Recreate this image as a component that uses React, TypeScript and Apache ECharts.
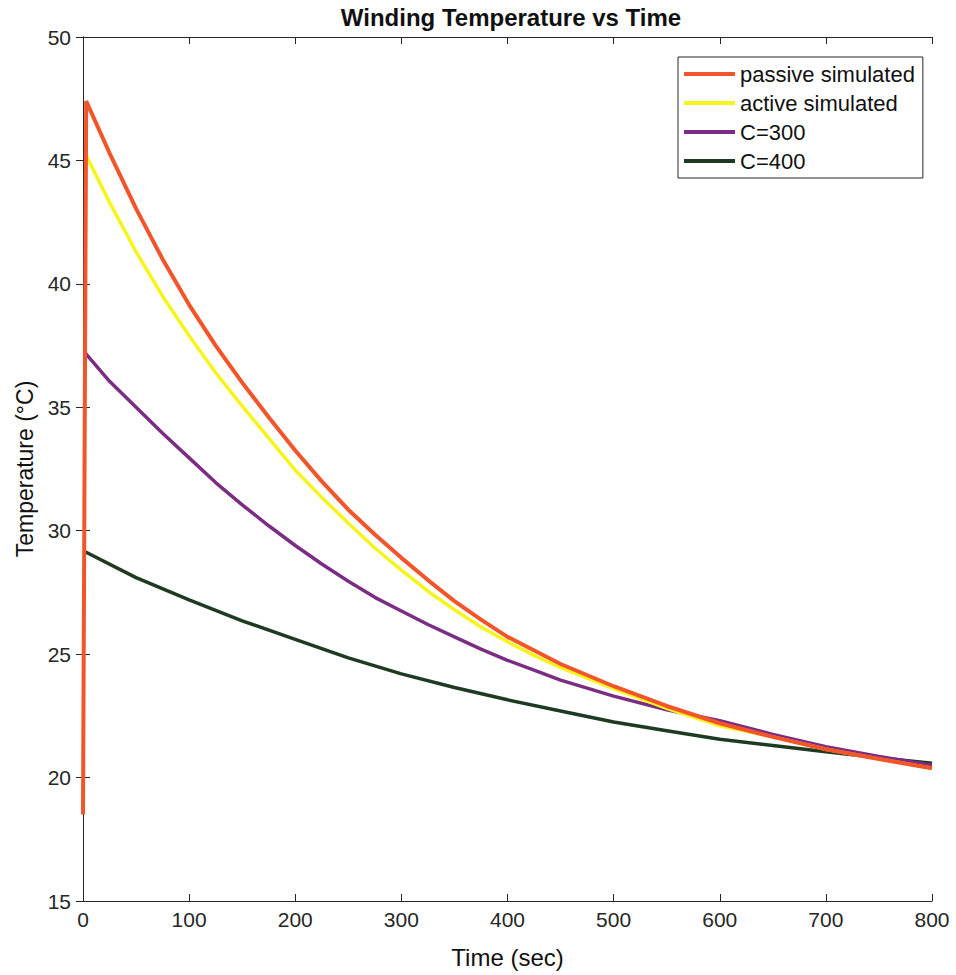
import React, { useEffect, useRef } from "react";
import * as echarts from "echarts";

const passiveTime = [0, 3, 25, 50, 75, 100, 125, 150, 175, 200, 225, 250, 275, 300, 325, 350, 375, 400, 450, 500, 550, 600, 650, 700, 750, 800];
const passiveTemp = [18.5, 47.4, 45.3, 43.05, 41.0, 39.15, 37.5, 36.0, 34.6, 33.25, 32.0, 30.85, 29.85, 28.9, 28.0, 27.15, 26.4, 25.7, 24.6, 23.7, 22.9, 22.2, 21.65, 21.15, 20.75, 20.38];

const activeTime = [3, 25, 50, 75, 100, 125, 150, 175, 200, 225, 250, 275, 300, 325, 350, 375, 400, 425, 450, 500, 550, 600, 650, 700, 750, 800];
const activeTemp = [45.2, 43.3, 41.3, 39.5, 37.9, 36.4, 35.05, 33.75, 32.45, 31.35, 30.3, 29.3, 28.4, 27.55, 26.8, 26.1, 25.5, 24.95, 24.45, 23.6, 22.8, 22.1, 21.65, 21.15, 20.75, 20.38];

const c300Time = [2, 25, 50, 75, 100, 125, 150, 175, 200, 225, 250, 275, 300, 325, 350, 375, 400, 425, 450, 500, 550, 600, 650, 700, 750, 800];
const c300Temp = [37.2, 36.05, 35.0, 33.95, 32.95, 31.95, 31.05, 30.2, 29.4, 28.65, 27.95, 27.3, 26.75, 26.2, 25.7, 25.2, 24.75, 24.35, 23.95, 23.3, 22.75, 22.3, 21.75, 21.25, 20.85, 20.5];

const c400Time = [2, 50, 100, 150, 200, 250, 300, 350, 400, 450, 500, 550, 600, 650, 700, 750, 800];
const c400Temp = [29.15, 28.1, 27.2, 26.35, 25.6, 24.85, 24.2, 23.65, 23.15, 22.7, 22.25, 21.9, 21.55, 21.3, 21.05, 20.8, 20.58];

const seriesNames = ["passive simulated", "active simulated", "C=300", "C=400"];
const seriesColors = ["#F2552A", "#F5F51C", "#7B2D83", "#1E3A22"];

const zip = (xs: number[], ys: number[]) => xs.map((x, i) => [x, ys[i]]);

export default function App() {
  const ref = useRef<HTMLDivElement>(null);
  useEffect(() => {
    if (!ref.current) return;
    const chart = echarts.init(ref.current, undefined, { renderer: "svg" });
    const font = "Liberation Sans, Arial, sans-serif";
    const axisColor = "#262626";
    const datasets = [
      zip(passiveTime, passiveTemp),
      zip(activeTime, activeTemp),
      zip(c300Time, c300Temp),
      zip(c400Time, c400Temp),
    ];
    const widths = [4, 3.5, 3.5, 3.5];
    const commonX = {
      type: "value" as const,
      min: 0,
      max: 800,
      interval: 100,
      splitLine: { show: false },
      axisLine: { show: true, lineStyle: { color: axisColor, width: 1 } },
      axisTick: { show: true, inside: true, length: 7, lineStyle: { color: axisColor } },
    };
    const commonY = {
      type: "value" as const,
      min: 15,
      max: 50,
      interval: 5,
      splitLine: { show: false },
      axisLine: { show: true, lineStyle: { color: axisColor, width: 1 } },
      axisTick: { show: true, inside: true, length: 7, lineStyle: { color: axisColor } },
    };
    chart.setOption({
      animation: false,
      backgroundColor: "#ffffff",
      textStyle: { fontFamily: font },
      graphic: [
        {
          type: "text",
          x: 511,
          y: 5,
          style: {
            text: "Winding Temperature vs Time",
            font: "bold 24px " + font,
            fill: "#111",
            textAlign: "center",
          },
        },
      ],
      grid: { left: 83, right: 24, top: 37, bottom: 74 },
      legend: {
        orient: "vertical",
        left: 678,
        top: 57,
        padding: [6, 8, 6, 6],
        itemGap: 7,
        itemWidth: 51,
        itemHeight: 4,
        icon: "rect",
        borderColor: "#262626",
        borderWidth: 1,
        backgroundColor: "#ffffff",
        textStyle: { fontSize: 22, color: "#111", fontFamily: font, lineHeight: 22 },
        data: seriesNames,
      },
      xAxis: [
        {
          ...commonX,
          position: "bottom",
          name: "Time (sec)",
          nameLocation: "middle",
          nameGap: 44,
          nameTextStyle: { fontSize: 24, color: "#111", fontFamily: font },
          axisLabel: { show: true, fontSize: 21, color: axisColor, margin: 8, fontFamily: font },
        },
        { ...commonX, position: "top", axisLabel: { show: false } },
      ],
      yAxis: [
        {
          ...commonY,
          position: "left",
          name: "Temperature (°C)",
          nameLocation: "middle",
          nameGap: 45,
          nameTextStyle: { fontSize: 23, color: "#111", fontFamily: font },
          axisLabel: { show: true, fontSize: 21, color: axisColor, margin: 12, fontFamily: font },
        },
        { ...commonY, position: "right", axisLabel: { show: false } },
      ],
      series: datasets.map((d, i) => ({
        name: seriesNames[i],
        type: "line",
        data: d,
        xAxisIndex: 0,
        yAxisIndex: 0,
        symbol: "none",
        smooth: false,
        lineStyle: { color: seriesColors[i], width: widths[i] },
        itemStyle: { color: seriesColors[i] },
        z: 10 - i,
      })),
    });
    return () => chart.dispose();
  }, []);
  return (
    <div
      ref={ref}
      style={{ position: "fixed", left: 0, top: 0, width: 956, height: 975, background: "#fff" }}
    />
  );
}
